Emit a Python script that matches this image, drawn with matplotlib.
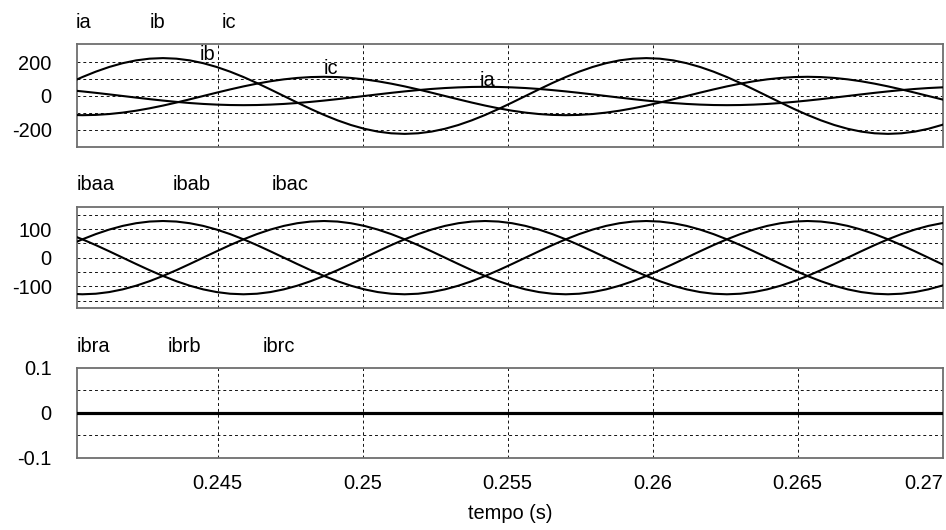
import numpy as np
import matplotlib
matplotlib.use("Agg")
import matplotlib.pyplot as plt

plt.rcParams['font.family'] = ['Liberation Sans', 'DejaVu Sans']

# sampling grid: 67 samples, 36 per 60 Hz cycle
t = np.linspace(0.239873, 0.270429, 67)

# line currents (A)
ia = [34.7, 27.0, 18.5, 9.4, 0.0, -9.4, -18.5, -27.0, -34.7, -41.4, -46.8, -50.7,
      -53.2, -54.0, -53.2, -50.7, -46.8, -41.4, -34.7, -27.0, -18.5, -9.4, 0.0, 9.4,
      18.5, 27.0, 34.7, 41.4, 46.8, 50.7, 53.2, 54.0, 53.2, 50.7, 46.8, 41.4, 34.7,
      27.0, 18.5, 9.4, 0.0, -9.4, -18.5, -27.0, -34.7, -41.4, -46.8, -50.7, -53.2,
      -54.0, -53.2, -50.7, -46.8, -41.4, -34.7, -27.0, -18.5, -9.4, 0.0, 9.4, 18.5,
      27.0, 34.7, 41.4, 46.8, 50.7, 53.2]
ib = [76.3, 111.5, 143.3, 170.8, 193.1, 209.6, 219.6, 223.0, 219.6, 209.6, 193.1,
      170.8, 143.3, 111.5, 76.3, 38.7, 0.0, -38.7, -76.3, -111.5, -143.3, -170.8,
      -193.1, -209.6, -219.6, -223.0, -219.6, -209.6, -193.1, -170.8, -143.3, -111.5,
      -76.3, -38.7, 0.0, 38.7, 76.3, 111.5, 143.3, 170.8, 193.1, 209.6, 219.6, 223.0,
      219.6, 209.6, 193.1, 170.8, 143.3, 111.5, 76.3, 38.7, 0.0, -38.7, -76.3, -111.5,
      -143.3, -170.8, -193.1, -209.6, -219.6, -223.0, -219.6, -209.6, -193.1, -170.8,
      -143.3]
ic = [-111.3, -113.0, -111.3, -106.2, -97.9, -86.6, -72.6, -56.5, -38.6, -19.6, 0.0,
      19.6, 38.6, 56.5, 72.6, 86.6, 97.9, 106.2, 111.3, 113.0, 111.3, 106.2, 97.9,
      86.6, 72.6, 56.5, 38.6, 19.6, 0.0, -19.6, -38.6, -56.5, -72.6, -86.6, -97.9,
      -106.2, -111.3, -113.0, -111.3, -106.2, -97.9, -86.6, -72.6, -56.5, -38.6,
      -19.6, 0.0, 19.6, 38.6, 56.5, 72.6, 86.6, 97.9, 106.2, 111.3, 113.0, 111.3,
      106.2, 97.9, 86.6, 72.6, 56.5, 38.6, 19.6, 0.0, -19.6, -38.6]

# balanced components (A)
ibaa = [82.3, 64.0, 43.8, 22.2, 0.0, -22.2, -43.8, -64.0, -82.3, -98.1, -110.9,
        -120.3, -126.1, -128.0, -126.1, -120.3, -110.9, -98.1, -82.3, -64.0, -43.8,
        -22.2, 0.0, 22.2, 43.8, 64.0, 82.3, 98.1, 110.9, 120.3, 126.1, 128.0, 126.1,
        120.3, 110.9, 98.1, 82.3, 64.0, 43.8, 22.2, 0.0, -22.2, -43.8, -64.0, -82.3,
        -98.1, -110.9, -120.3, -126.1, -128.0, -126.1, -120.3, -110.9, -98.1, -82.3,
        -64.0, -43.8, -22.2, 0.0, 22.2, 43.8, 64.0, 82.3, 98.1, 110.9, 120.3, 126.1]
ibab = [43.8, 64.0, 82.3, 98.1, 110.9, 120.3, 126.1, 128.0, 126.1, 120.3, 110.9,
        98.1, 82.3, 64.0, 43.8, 22.2, 0.0, -22.2, -43.8, -64.0, -82.3, -98.1, -110.9,
        -120.3, -126.1, -128.0, -126.1, -120.3, -110.9, -98.1, -82.3, -64.0, -43.8,
        -22.2, 0.0, 22.2, 43.8, 64.0, 82.3, 98.1, 110.9, 120.3, 126.1, 128.0, 126.1,
        120.3, 110.9, 98.1, 82.3, 64.0, 43.8, 22.2, 0.0, -22.2, -43.8, -64.0, -82.3,
        -98.1, -110.9, -120.3, -126.1, -128.0, -126.1, -120.3, -110.9, -98.1, -82.3]
ibac = [-126.1, -128.0, -126.1, -120.3, -110.9, -98.1, -82.3, -64.0, -43.8, -22.2,
        0.0, 22.2, 43.8, 64.0, 82.3, 98.1, 110.9, 120.3, 126.1, 128.0, 126.1, 120.3,
        110.9, 98.1, 82.3, 64.0, 43.8, 22.2, 0.0, -22.2, -43.8, -64.0, -82.3, -98.1,
        -110.9, -120.3, -126.1, -128.0, -126.1, -120.3, -110.9, -98.1, -82.3, -64.0,
        -43.8, -22.2, 0.0, 22.2, 43.8, 64.0, 82.3, 98.1, 110.9, 120.3, 126.1, 128.0,
        126.1, 120.3, 110.9, 98.1, 82.3, 64.0, 43.8, 22.2, 0.0, -22.2, -43.8]

# residual components (A)
t_r = [0.2398, 0.2705]
ibra = [0.0, 0.0]
ibrb = [0.0, 0.0]
ibrc = [0.0, 0.0]

x_ticks = [0.245, 0.25, 0.255, 0.26, 0.265, 0.27]
x_ticklabels = ["0.245", "0.25", "0.255", "0.26", "0.265", "0.27"]
XLIM = (0.24014, 0.27002)

W, H = 946, 530
FS = 14.4
fig = plt.figure(figsize=(W / 100, H / 100), dpi=100)


def px_axes(x0, y0, x1, y1):
    return fig.add_axes([x0 / W, 1 - y1 / H, (x1 - x0) / W, (y1 - y0) / H])


def style(ax, ylim, yticks, yticklabels, hgrid):
    ax.set_xlim(*XLIM)
    ax.set_ylim(*ylim)
    ax.set_xticks(x_ticks)
    ax.set_yticks(yticks)
    ax.set_yticklabels(yticklabels, fontsize=FS)
    ax.tick_params(length=0, pad=18)
    for x in x_ticks:
        ax.axvline(x, color='#111111', lw=0.7, ls=(0, (3, 3)), zorder=1)
    for y in hgrid:
        ax.axhline(y, color='#111111', lw=0.7, ls=(0, (3, 3)), zorder=1)
    for s in ax.spines.values():
        s.set_color('#6e6e6e')
        s.set_linewidth(1.3)


def header(names, xs, y):
    for name, x in zip(names, xs):
        fig.text(x / W, 1 - y / H, name, fontsize=FS, ha='left', va='baseline')


LW = 1.5

ax1 = px_axes(76.7, 44, 943.3, 147.3)
style(ax1, (-302, 306), [-200, 0, 200], ["-200", "0", "200"], [-200, -100, 0, 100, 200])
ax1.plot(t, ia, color='black', lw=LW, zorder=3)
ax1.plot(t, ib, color='black', lw=LW, zorder=3)
ax1.plot(t, ic, color='black', lw=LW, zorder=3)
ax1.set_xticklabels([])
ax1.text(0.24439, 209, "ib", fontsize=FS, ha='left', va='baseline', zorder=4)
ax1.text(0.248666, 129, "ic", fontsize=FS, ha='left', va='baseline', zorder=4)
ax1.text(0.254045, 57, "ia", fontsize=FS, ha='left', va='baseline', zorder=4)
header(["ia", "ib", "ic"], [76, 150, 222], 28.3)

ax2 = px_axes(76.7, 206.7, 943.3, 308.3)
style(ax2, (-177, 178), [-100, 0, 100], ["-100", "0", "100"],
      [-150, -100, -50, 0, 50, 100, 150])
ax2.plot(t, ibaa, color='black', lw=LW, zorder=3)
ax2.plot(t, ibab, color='black', lw=LW, zorder=3)
ax2.plot(t, ibac, color='black', lw=LW, zorder=3)
ax2.set_xticklabels([])
header(["ibaa", "ibab", "ibac"], [77, 173, 272], 190)

ax3 = px_axes(76.7, 367.7, 943.3, 457.7)
style(ax3, (-0.1, 0.1), [-0.1, 0, 0.1], ["-0.1", "0", "0.1"], [-0.05, 0, 0.05])
ax3.plot(t_r, ibra, color='black', lw=2.2, zorder=3)
ax3.plot(t_r, ibrb, color='black', lw=2.2, zorder=3)
ax3.plot(t_r, ibrc, color='black', lw=2.2, zorder=3)
ax3.set_xticklabels(x_ticklabels, fontsize=FS)
ax3.tick_params(axis='x', pad=12)
ax3.get_xticklabels()[-1].set_horizontalalignment('right')
ax3.set_xlabel("tempo (s)", fontsize=FS, labelpad=8)
header(["ibra", "ibrb", "ibrc"], [77, 168, 263], 351.7)

fig.savefig("out.png", dpi=100)
